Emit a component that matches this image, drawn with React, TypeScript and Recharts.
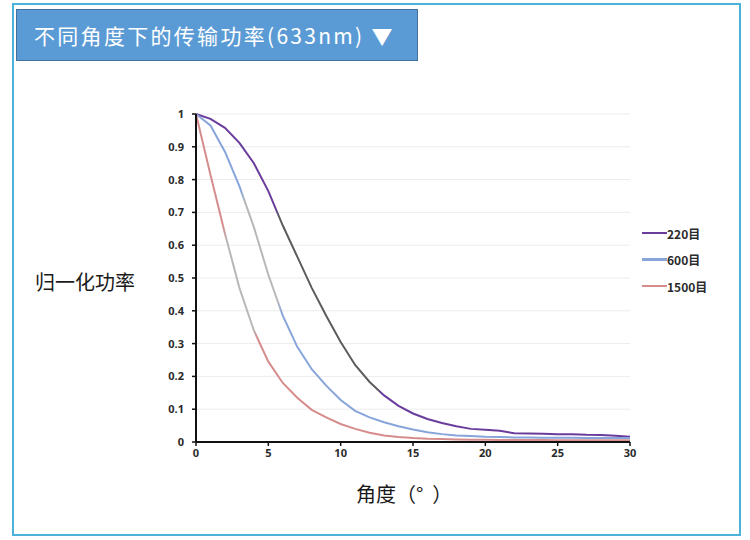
import { LineChart, Line, XAxis, YAxis, CartesianGrid } from 'recharts';

// angle (deg) vs normalised power for three mesh grades
const angles = [0, 1, 2, 3, 4, 5, 6, 7, 8, 9, 10, 11, 12, 13, 14, 15, 16, 17, 18, 19, 20, 21, 22, 23, 24, 25, 26, 27, 28, 29, 30];
const mesh220 = [1.0, 0.985, 0.958, 0.912, 0.85, 0.765, 0.66, 0.565, 0.47, 0.385, 0.305, 0.235, 0.183, 0.142, 0.11, 0.087, 0.07, 0.058, 0.048, 0.04, 0.037, 0.034, 0.027, 0.026, 0.025, 0.024, 0.024, 0.022, 0.021, 0.019, 0.016];
const mesh600 = [1.0, 0.965, 0.885, 0.78, 0.655, 0.51, 0.385, 0.29, 0.222, 0.172, 0.128, 0.095, 0.075, 0.06, 0.048, 0.038, 0.03, 0.024, 0.02, 0.018, 0.016, 0.015, 0.014, 0.014, 0.013, 0.013, 0.013, 0.012, 0.012, 0.012, 0.012];
const mesh1500 = [1.0, 0.815, 0.636, 0.47, 0.34, 0.245, 0.18, 0.135, 0.098, 0.075, 0.055, 0.04, 0.028, 0.02, 0.015, 0.012, 0.01, 0.009, 0.008, 0.007, 0.007, 0.006, 0.006, 0.006, 0.006, 0.005, 0.005, 0.005, 0.005, 0.005, 0.005];
const seriesNames = ['220目', '600目', '1500目'];
const xTicks = [0, 5, 10, 15, 20, 25, 30];
const yTicks = [0, 0.1, 0.2, 0.3, 0.4, 0.5, 0.6, 0.7, 0.8, 0.9, 1];

const data = angles.map((a, i) => ({
  angle: a,
  m220: mesh220[i],
  m600: mesh600[i],
  m1500: mesh1500[i],
}));

// the scanned original has grey stretches in each curve
const series = [
  { key: 'm220', name: seriesNames[0], color: '#6a3c9c', grey: '#5c5c5c', from: 0.187, to: 0.423 },
  { key: 'm600', name: seriesNames[1], color: '#87a5da', grey: '#b8b8b8', from: 0.108, to: 0.193 },
  { key: 'm1500', name: seriesNames[2], color: '#d78c8c', grey: '#b8b8b8', from: 0.067, to: 0.137 },
];

const tickStyle = { fontSize: 11, fontWeight: 700, fill: '#2a2a2a', fontFamily: '"Noto Sans", sans-serif' };
const cjk = '"Noto Sans CJK SC", "Noto Sans", sans-serif';

export default function App() {
  return (
    <div style={{ position: 'absolute', left: 0, top: 0, width: 750, height: 540, background: '#fff', fontFamily: cjk }}>
      {/* outer frame */}
      <div
        style={{
          position: 'absolute',
          left: 12,
          top: 3,
          width: 725,
          height: 529,
          border: '2px solid #4db2da',
        }}
      />
      {/* title button */}
      <div
        style={{
          position: 'absolute',
          left: 16,
          top: 9,
          width: 402,
          height: 52,
          background: '#5b9bd5',
          border: '1px solid #41719c',
          color: '#fff',
          fontSize: 21,
          letterSpacing: 2.3,
          lineHeight: '50px',
          paddingLeft: 17,
          boxSizing: 'border-box',
          whiteSpace: 'nowrap',
        }}
      >
        不同角度下的传输功率(633nm) ▼
      </div>

      <div style={{ position: 'absolute', left: 0, top: 0 }}>
        <LineChart width={750} height={540} data={data} margin={{ top: 114, right: 120, bottom: 68, left: 156 }}>
          <defs>
            {series.map((s) => (
              <linearGradient key={s.key} id={`grad-${s.key}`} x1="0" y1="0" x2="1" y2="0">
                <stop offset={0} stopColor={s.color} />
                <stop offset={s.from - 0.005} stopColor={s.color} />
                <stop offset={s.from + 0.005} stopColor={s.grey} />
                <stop offset={s.to - 0.005} stopColor={s.grey} />
                <stop offset={s.to + 0.005} stopColor={s.color} />
                <stop offset={1} stopColor={s.color} />
              </linearGradient>
            ))}
          </defs>
          <CartesianGrid vertical={false} stroke="#ececec" strokeWidth={1} />
          <XAxis
            dataKey="angle"
            type="number"
            domain={[0, 30]}
            ticks={xTicks}
            interval={0}
            height={30}
            tick={tickStyle}
            tickSize={4}
            tickMargin={3}
            axisLine={{ stroke: '#111', strokeWidth: 2 }}
            tickLine={{ stroke: '#111', strokeWidth: 1.5 }}
          />
          <YAxis
            type="number"
            domain={[0, 1]}
            ticks={yTicks}
            interval={0}
            width={40}
            tick={tickStyle}
            tickSize={4}
            tickMargin={8}
            tickFormatter={(v: number) => String(Math.round(v * 10) / 10)}
            axisLine={{ stroke: '#111', strokeWidth: 2 }}
            tickLine={{ stroke: '#111', strokeWidth: 1.5 }}
          />
          {series.map((s) => (
            <Line
              key={s.key}
              dataKey={s.key}
              name={s.name}
              type="linear"
              stroke={`url(#grad-${s.key})`}
              strokeWidth={2}
              dot={false}
              activeDot={false}
              isAnimationActive={false}
            />
          ))}
        </LineChart>
      </div>

      {/* axis titles */}
      <div style={{ position: 'absolute', left: 35, top: 267, fontSize: 20, color: '#1a1a1a', whiteSpace: 'nowrap' }}>归一化功率</div>
      <div style={{ position: 'absolute', left: 356, top: 479, fontSize: 20, color: '#1a1a1a', whiteSpace: 'pre' }}>角度（°  ）</div>

      {/* legend */}
      {series.map((s, i) => (
        <div
          key={s.key}
          style={{ position: 'absolute', left: 642, top: 225 + i * 26.5, height: 16, display: 'flex', alignItems: 'center' }}
        >
          <div style={{ width: 25, height: 2.5, background: s.color }} />
          <span style={{ fontSize: 12, fontWeight: 700, color: '#2a2a2a', fontFamily: cjk }}>{s.name}</span>
        </div>
      ))}
    </div>
  );
}
